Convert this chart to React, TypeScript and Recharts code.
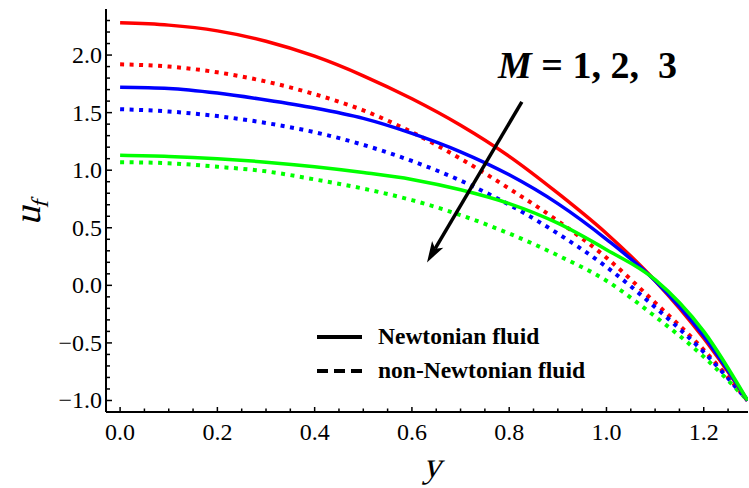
import { LineChart, Line, XAxis, YAxis, ReferenceLine } from 'recharts';

const Y_POS = [0, 0.1, 0.2, 0.3, 0.4, 0.5, 0.6, 0.7, 0.8, 0.9, 1.0, 1.1, 1.2, 1.29];

// Newtonian fluid, M = 1, 2, 3
const newtonM1 = [2.28, 2.26, 2.21, 2.12, 1.99, 1.82, 1.62, 1.39, 1.12, 0.8, 0.45, 0.04, -0.46, -1.0];
const newtonM2 = [1.72, 1.71, 1.67, 1.61, 1.54, 1.45, 1.32, 1.16, 0.96, 0.71, 0.4, 0.04, -0.44, -1.0];
const newtonM3 = [1.13, 1.12, 1.1, 1.07, 1.03, 0.98, 0.92, 0.83, 0.71, 0.54, 0.31, 0.05, -0.4, -1.0];

// non-Newtonian fluid, M = 1, 2, 3
const nonNewtonM1 = [1.92, 1.9, 1.85, 1.77, 1.66, 1.52, 1.33, 1.1, 0.84, 0.56, 0.24, -0.15, -0.56, -1.0];
const nonNewtonM2 = [1.53, 1.51, 1.47, 1.41, 1.33, 1.22, 1.08, 0.91, 0.7, 0.45, 0.16, -0.19, -0.58, -1.0];
const nonNewtonM3 = [1.07, 1.06, 1.03, 0.99, 0.92, 0.84, 0.74, 0.61, 0.45, 0.26, 0.04, -0.27, -0.62, -1.0];

const X_MAJOR = [0, 0.2, 0.4, 0.6, 0.8, 1.0, 1.2];
const X_TICKS = [0, 0.05, 0.1, 0.15, 0.2, 0.25, 0.3, 0.35, 0.4, 0.45, 0.5, 0.55, 0.6, 0.65, 0.7, 0.75, 0.8, 0.85, 0.9, 0.95, 1.0, 1.05, 1.1, 1.15, 1.2, 1.25];
const Y_MAJOR = [-1.0, -0.5, 0, 0.5, 1.0, 1.5, 2.0];
const Y_TICKS = [-1.0, -0.9, -0.8, -0.7, -0.6, -0.5, -0.4, -0.3, -0.2, -0.1, 0, 0.1, 0.2, 0.3, 0.4, 0.5, 0.6, 0.7, 0.8, 0.9, 1.0, 1.1, 1.2, 1.3, 1.4, 1.5, 1.6, 1.7, 1.8, 1.9, 2.0, 2.1, 2.2, 2.3];

const data = Y_POS.map((y, i) => ({
  y,
  n1: newtonM1[i],
  n2: newtonM2[i],
  n3: newtonM3[i],
  d1: nonNewtonM1[i],
  d2: nonNewtonM2[i],
  d3: nonNewtonM3[i],
}));

const FONT = '"Liberation Serif", "Times New Roman", serif';
const RED = '#ff0000';
const BLUE = '#0000ff';
const GREEN = '#00ff00';
const DOTS = '4 5.5';

const isMajor = (list: number[], v: number) => list.some((m) => Math.abs(m - v) < 1e-6);
const fmt = (v: number) => (v < 0 ? '\u2212' : '') + Math.abs(v).toFixed(1);

const BottomTick = ({ x, y, payload }: any) => {
  const major = isMajor(X_MAJOR, payload.value);
  return (
    <g>
      <line x1={x} x2={x} y1={y} y2={y - (major ? 5 : 3.5)} stroke="#000" strokeWidth={1.5} />
      {major && (
        <text x={x} y={y + 28} textAnchor="middle" fontFamily={FONT} fontSize={24} fill="#000">
          {fmt(payload.value)}
        </text>
      )}
    </g>
  );
};

const TopTick = ({ x, y, payload }: any) => {
  const major = isMajor(X_MAJOR, payload.value);
  return <line x1={x} x2={x} y1={y} y2={y + (major ? 5 : 3.5)} stroke="#000" strokeWidth={1.5} />;
};

const LeftTick = ({ x, y, payload }: any) => {
  const major = isMajor(Y_MAJOR, payload.value);
  return (
    <g>
      <line x1={x} x2={x + (major ? 6 : 4)} y1={y} y2={y} stroke="#000" strokeWidth={1.5} />
      {major && (
        <text x={x - 4} y={y + 8} textAnchor="end" fontFamily={FONT} fontSize={24} fill="#000">
          {fmt(payload.value)}
        </text>
      )}
    </g>
  );
};

const Arrow = (props: any) => {
  const { x1, y1, x2, y2 } = props;
  const ang = Math.atan2(y2 - y1, x2 - x1);
  const len = 22;
  const half = 0.3;
  const bx = x2 - (len - 6) * Math.cos(ang);
  const by = y2 - (len - 6) * Math.sin(ang);
  const p1 = `${x2 - len * Math.cos(ang - half)},${y2 - len * Math.sin(ang - half)}`;
  const p2 = `${x2 - len * Math.cos(ang + half)},${y2 - len * Math.sin(ang + half)}`;
  return (
    <g>
      <line x1={x1} y1={y1} x2={bx} y2={by} stroke="#000" strokeWidth={3.5} />
      <polygon points={`${x2},${y2} ${p1} ${bx},${by} ${p2}`} fill="#000" />
    </g>
  );
};

export default function App() {
  return (
    <div style={{ position: 'absolute', left: 0, top: 0, width: 749, height: 488, background: '#fff' }}>
      <LineChart width={749} height={488} data={data} margin={{ top: 9, right: 1, left: 0, bottom: 0 }}>
        <XAxis
          dataKey="y"
          type="number"
          domain={[-0.029, 1.291]}
          allowDataOverflow
          ticks={X_TICKS}
          interval={0}
          tick={<BottomTick />}
          tickLine={false}
          tickSize={0}
          tickMargin={0}
          height={76}
          axisLine={{ stroke: '#000', strokeWidth: 2 }}
        />
        <XAxis
          xAxisId="top"
          orientation="top"
          dataKey="y"
          type="number"
          domain={[-0.029, 1.291]}
          allowDataOverflow
          ticks={X_TICKS}
          interval={0}
          tick={<TopTick />}
          tickLine={false}
          tickSize={0}
          tickMargin={0}
          height={0}
          axisLine={{ stroke: '#000', strokeWidth: 2 }}
        />
        <YAxis
          type="number"
          domain={[-1.1, 2.4]}
          allowDataOverflow
          ticks={Y_TICKS}
          interval={0}
          tick={<LeftTick />}
          tickLine={false}
          tickSize={0}
          tickMargin={0}
          width={106}
          axisLine={{ stroke: '#000', strokeWidth: 2 }}
        />
        <Line dataKey="d1" type="monotone" stroke={RED} strokeWidth={4} strokeDasharray={DOTS} dot={false} isAnimationActive={false} />
        <Line dataKey="d2" type="monotone" stroke={BLUE} strokeWidth={4} strokeDasharray={DOTS} dot={false} isAnimationActive={false} />
        <Line dataKey="d3" type="monotone" stroke={GREEN} strokeWidth={4} strokeDasharray={DOTS} dot={false} isAnimationActive={false} />
        <Line dataKey="n1" type="monotone" stroke={RED} strokeWidth={3.5} dot={false} isAnimationActive={false} />
        <Line dataKey="n2" type="monotone" stroke={BLUE} strokeWidth={3.5} dot={false} isAnimationActive={false} />
        <Line dataKey="n3" type="monotone" stroke={GREEN} strokeWidth={3.5} dot={false} isAnimationActive={false} />
        <ReferenceLine
          segment={[
            { x: 0.826, y: 1.594 },
            { x: 0.631, y: 0.199 },
          ]}
          shape={<Arrow />}
        />
      </LineChart>
      <svg width={749} height={488} style={{ position: 'absolute', left: 0, top: 0, pointerEvents: 'none' }}>
        <text x={498} y={78} fontFamily={FONT} fontSize={38} fontWeight="bold" fill="#000" style={{ whiteSpace: 'pre' }}>
          <tspan fontStyle="italic">M</tspan>
          <tspan>{' = 1, 2,  3'}</tspan>
        </text>
        <line x1={317} x2={362} y1={337} y2={337} stroke="#000" strokeWidth={4} />
        <text x={378} y={344} fontFamily={FONT} fontSize={23.5} fontWeight="bold" fill="#000">
          Newtonian fluid
        </text>
        <line x1={317} x2={362} y1={371} y2={371} stroke="#000" strokeWidth={4} strokeDasharray="11 6" />
        <text x={378} y={378} fontFamily={FONT} fontSize={23.5} fontWeight="bold" fill="#000">
          non-Newtonian fluid
        </text>
        {/* italic axis titles: slanted regular serif */}
        <g transform="translate(432,477) skewX(-14)">
          <text x={0} y={0} textAnchor="middle" fontFamily={FONT} fontSize={36} fill="#000">
            y
          </text>
        </g>
        <g transform="translate(40,212) rotate(-90) skewX(-14)">
          <text x={0} y={0} textAnchor="middle" fontFamily={FONT} fontSize={38} fill="#000">
            u<tspan fontSize={24} dy={8}>f</tspan>
          </text>
        </g>
      </svg>
    </div>
  );
}
